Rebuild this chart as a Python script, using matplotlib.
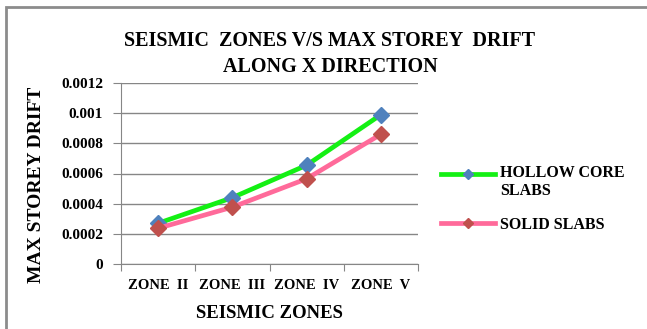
import matplotlib
matplotlib.use("Agg")
import matplotlib.pyplot as plt
from matplotlib.patches import Rectangle
from matplotlib.legend_handler import HandlerLine2D

zones = ["ZONE  II", "ZONE  III", "ZONE  IV", "ZONE  V"]
hollow_core = [0.00027, 0.00044, 0.000655, 0.00099]
solid = [0.000237, 0.000377, 0.000565, 0.00086]
y_ticks = [0, 0.0002, 0.0004, 0.0006, 0.0008, 0.001, 0.0012]
y_tick_labels = ["0", "0.0002", "0.0004", "0.0006", "0.0008", "0.001", "0.0012"]

plt.rcParams["font.family"] = ["Liberation Serif", "DejaVu Serif"]
plt.rcParams["font.weight"] = "bold"


class TopAlignedLine(HandlerLine2D):
    """Legend handle placed level with the first line of a two-line label."""

    def __init__(self, lift=0.0, **kw):
        super().__init__(**kw)
        self.lift = lift

    def create_artists(self, legend, orig_handle, xdescent, ydescent,
                       width, height, fontsize, trans):
        return super().create_artists(legend, orig_handle, xdescent,
                                      ydescent - 2 * self.lift, width,
                                      height, fontsize, trans)


W, H = 647, 329
fig = plt.figure(figsize=(W / 100, H / 100), dpi=100)
fig.patch.set_facecolor("white")

# outer chart frame (runs off the right and bottom edges)
fig.patches.append(Rectangle((6 / W, -1.0), 2.0, 2.0 - 7 / H,
                             transform=fig.transFigure, fill=False,
                             edgecolor="#8c8c8c", linewidth=2))

ax = fig.add_axes([121 / W, 1 - 264 / H, (418 - 121) / W, (264 - 83) / H])
x = list(range(len(zones)))

l1, = ax.plot(x, hollow_core, color="#14F014", linewidth=3.4, marker="D",
              markersize=8.5, markerfacecolor="#4F81BD", markeredgecolor="#4F81BD",
              label="HOLLOW CORE\nSLABS", zorder=3)
l2, = ax.plot(x, solid, color="#FF6A9A", linewidth=3.4, marker="D",
              markersize=8.5, markerfacecolor="#C0504D", markeredgecolor="#C0504D",
              label="SOLID SLABS", zorder=3)

ax.set_xlim(-0.5, len(zones) - 0.5)
ax.set_ylim(0, 0.0012)
ax.set_yticks(y_ticks)
ax.set_yticklabels(y_tick_labels, fontsize=11, fontweight="bold")
ax.set_xticks([i - 0.5 for i in range(len(zones) + 1)])
ax.set_xticklabels([])
ax.set_xticks(x, minor=True)
ax.set_xticklabels(zones, minor=True, fontsize=10.5, fontweight="bold")
ax.tick_params(axis="x", which="minor", length=0, pad=11)
ax.tick_params(axis="x", which="major", length=5, color="#868686")
ax.tick_params(axis="y", length=6, color="#868686", pad=7)

ax.grid(axis="y", color="#868686", linewidth=1)
ax.set_axisbelow(True)
for s in ["top", "right"]:
    ax.spines[s].set_visible(False)
for s in ["left", "bottom"]:
    ax.spines[s].set_color("#868686")

ax.set_xlabel("SEISMIC ZONES", fontsize=13.5, fontweight="bold", labelpad=9)
ax.set_ylabel("MAX STOREY DRIFT", fontsize=14, fontweight="bold")
ax.yaxis.set_label_coords((45 - 121) / 297, (264 - 185) / 181)

fig.text(330 / W, 1 - 54 / H, "SEISMIC  ZONES V/S MAX STOREY  DRIFT\nALONG X DIRECTION",
         ha="center", va="center", fontsize=14.5, fontweight="bold",
         linespacing=1.4)

ax.legend(handles=[l1, l2], loc="center left",
          bbox_to_anchor=(441 / W, 1 - 199 / H),
          bbox_transform=fig.transFigure, frameon=False, fontsize=11.5,
          handlelength=3.4, labelspacing=1.1, handletextpad=0.3,
          borderpad=0, borderaxespad=0, markerscale=0.55,
          handler_map={l1: TopAlignedLine(lift=6.5)})

fig.savefig("out.png", dpi=100)
